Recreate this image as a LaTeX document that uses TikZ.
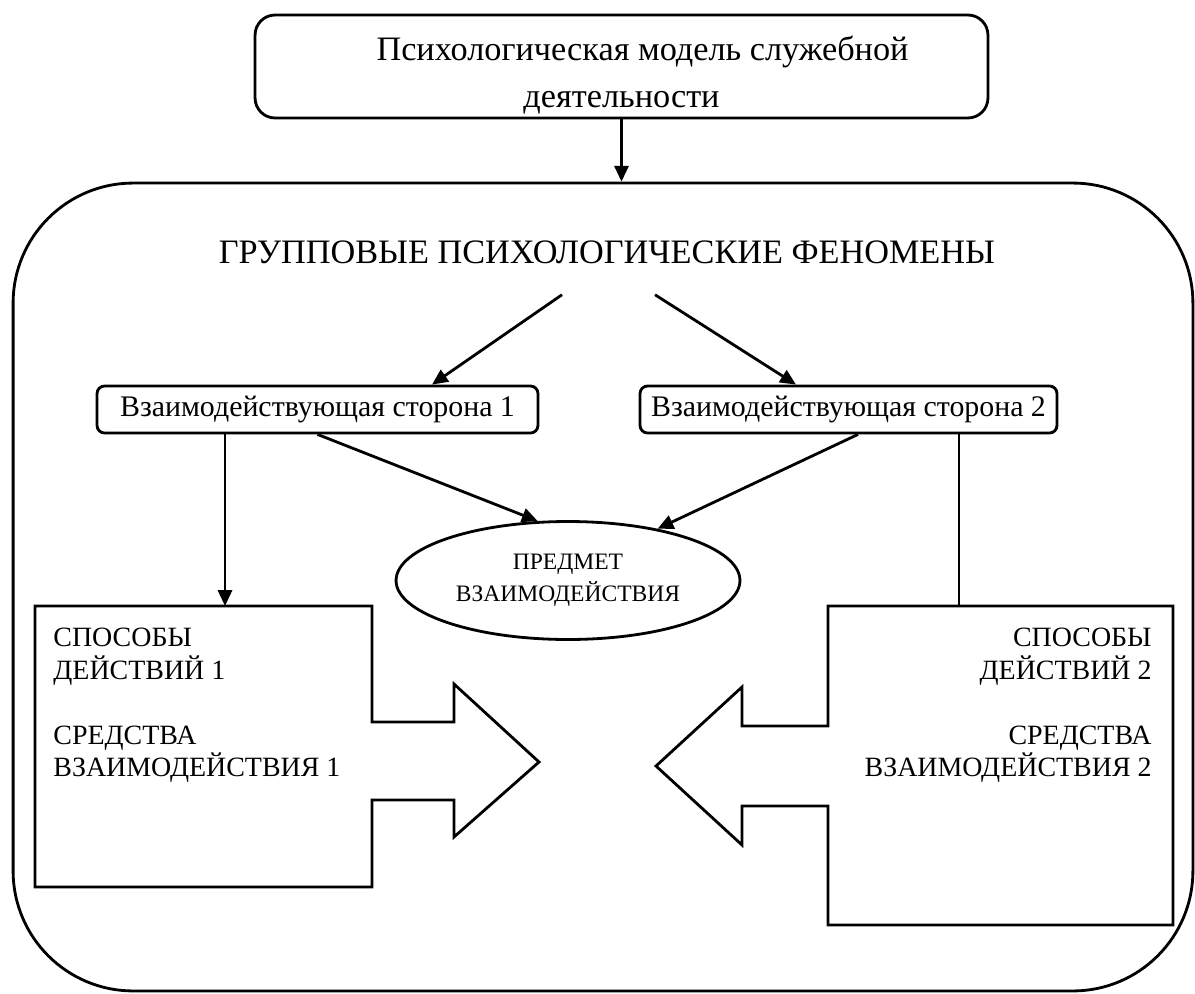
\documentclass[tikz,border=0pt]{standalone}
\usepackage{fontspec}
\setmainfont{Liberation Serif}
\usetikzlibrary{shapes.geometric,arrows.meta}

\begin{document}
\begin{tikzpicture}[
    x = 0.02cm, y = -0.02cm,
    line width = 1.6pt,
    every node/.style = {align = center},
    stage/.style = {draw, rounded corners = 0.4cm, minimum width = 14.66cm,
      minimum height = 2.06cm, inner ysep = 0pt, font = \fontsize{19.5}{27}\selectfont},
    side/.style = {draw, rounded corners = 0.15cm, minimum height = 0.94cm,
      font = \fontsize{17}{20}\selectfont},
    ways/.style = {inner sep = 0pt, font = \fontsize{15.9}{18.5}\selectfont},
    link/.style = {-{Triangle[length = 9pt, width = 8pt]}},
  ]
  \useasboundingbox (0,0) rectangle (1195,993);

  \node [stage] (model) at (621.5,66.5)
        {\rule{0pt}{24pt}\hspace*{0.84cm}Психологическая модель служебной\\деятельности};
  \node [draw, rounded corners = 2.4cm, minimum width = 23.6cm,
         minimum height = 16.16cm] (frame) at (603,587) {};
  \node [inner sep = 0pt, anchor = base, font = \fontsize{19.5}{22}\selectfont]
        (phenomena) at (607,263) {ГРУППОВЫЕ ПСИХОЛОГИЧЕСКИЕ ФЕНОМЕНЫ};
  \node [side, minimum width = 8.82cm] (side 1) at (317.5,409.5) {Взаимодействующая сторона 1};
  \node [side, minimum width = 8.34cm] (side 2) at (848.5,409.5) {Взаимодействующая сторона 2};
  \node [draw, ellipse, minimum width = 6.88cm, minimum height = 2.36cm, inner sep = 0pt,
         font = \fontsize{13.4}{18}\selectfont] (subject) at (568,580.5) {ПРЕДМЕТ\\ВЗАИМОДЕЙСТВИЯ};

  \draw (35,606) -- (372,606) -- (372,722) -- (454,722) -- (454,684) -- (539,762)
        -- (454,837) -- (454,800) -- (372,800) -- (372,887) -- (35,887) -- cycle;
  \draw (1173,606) -- (828,606) -- (828,726) -- (742,726) -- (742,687) -- (656,766)
        -- (742,845) -- (742,806) -- (828,806) -- (828,925) -- (1173,925) -- cycle;

  \coordinate (ways 1 top) at (225,606);
  \coordinate (ways 2 top) at (959,606);
  \node [ways, anchor = north west, align = left] (ways 1) at (52,627)
        {СПОСОБЫ\\ДЕЙСТВИЙ 1\\[18.5pt]СРЕДСТВА\\ВЗАИМОДЕЙСТВИЯ 1};
  \node [ways, anchor = north east, align = right] (ways 2) at (1153,627)
        {СПОСОБЫ\\ДЕЙСТВИЙ 2\\[18.5pt]СРЕДСТВА\\ВЗАИМОДЕЙСТВИЯ 2};

  \draw [link] (model.south) -- (model.south |- frame.north);
  \draw [link] ([xshift = -0.9cm, yshift = -0.6cm]phenomena.south) -- ([xshift = 2.29cm]side 1.north);
  \draw [link] ([xshift = 0.96cm, yshift = -0.6cm]phenomena.south) -- ([xshift = -1.05cm]side 2.north);
  \draw [link] (side 1.south) -- (subject.117);
  \draw [link] ([xshift = 0.19cm]side 2.south) -- (subject.30);
  \draw [link] (side 1.south -| ways 1 top) -- (ways 1 top);
  \draw (side 2.south -| ways 2 top) -- (ways 2 top);
\end{tikzpicture}
\end{document}
